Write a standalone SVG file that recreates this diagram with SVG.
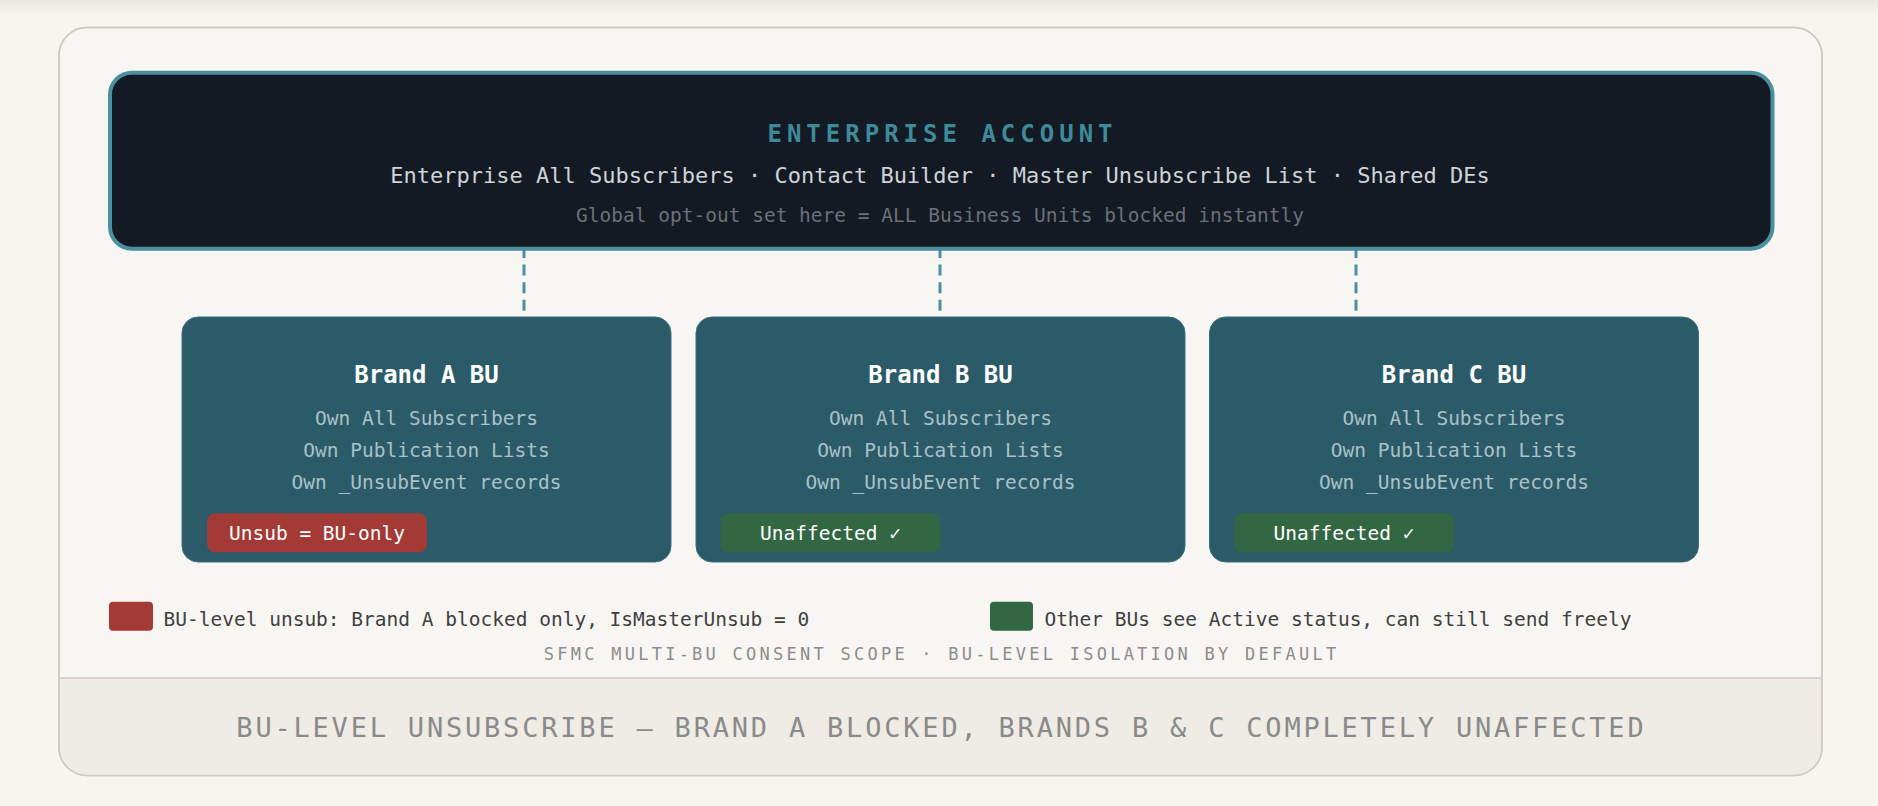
<svg xmlns="http://www.w3.org/2000/svg" width="1878" height="806" viewBox="0 0 1878 806">
<defs>
<linearGradient id="topShade" x1="0" y1="0" x2="0" y2="1">
<stop offset="0" stop-color="#e9e7e3"/>
<stop offset="1" stop-color="#f7f5f0"/>
</linearGradient>
<style>
text{font-family:"DejaVu Sans Mono","Liberation Mono",monospace;}
.bu{fill:#2b5b69;stroke:#3c6f7d;stroke-width:1;}
.bu-title{font-size:24px;font-weight:bold;fill:#ffffff;text-anchor:middle;}
.bu-line{font-size:19.5px;fill:#a9c1c7;text-anchor:middle;}
.badge-txt{font-size:19.5px;fill:#ffffff;text-anchor:middle;}
.red{fill:#a33a36;}
.green{fill:#336643;}
.legend{font-size:19.5px;fill:#3f3f3f;}
.conn{stroke:#4a8fa0;stroke-width:3;stroke-dasharray:11 6.6;fill:none;}
</style>
</defs>
<rect x="0" y="0" width="1878" height="806" fill="#f7f5f0"/>
<rect x="0" y="0" width="1878" height="18" fill="url(#topShade)"/>

<g id="panel">
<rect x="59" y="27.5" width="1763" height="748" rx="28" fill="#f8f6f2" stroke="#cfc9bf" stroke-width="1.5"/>
<path d="M59.75 678 H1821.25 V747.5 A28 28 0 0 1 1793.25 775.5 H87.75 A28 28 0 0 1 59.75 747.5 Z" fill="#efece6"/>
<line x1="59.75" y1="678" x2="1821.25" y2="678" stroke="#cfc9bf" stroke-width="1.5"/>
<rect x="59" y="27.5" width="1763" height="748" rx="28" fill="none" stroke="#cfc9bf" stroke-width="1.5"/>
</g>

<g id="connectors">
<line class="conn" x1="524" y1="247" x2="524" y2="317"/>
<line class="conn" x1="940" y1="247" x2="940" y2="317"/>
<line class="conn" x1="1356" y1="247" x2="1356" y2="317"/>
</g>

<g id="enterprise">
<rect x="110" y="72.7" width="1662.5" height="176" rx="22" fill="#131a23" stroke="#4a8fa0" stroke-width="4"/>
<text x="942.5" y="141.7" font-size="24" font-weight="bold" fill="#3e8a9a" text-anchor="middle" letter-spacing="5">ENTERPRISE ACCOUNT</text>
<text x="940" y="182.7" font-size="22" fill="#cfd3d7" text-anchor="middle">Enterprise All Subscribers · Contact Builder · Master Unsubscribe List · Shared DEs</text>
<text x="940" y="221.7" font-size="19.5" fill="#6b7079" text-anchor="middle">Global opt-out set here = ALL Business Units blocked instantly</text>
</g>

<g id="brand-a">
<rect class="bu" x="182" y="317" width="489" height="245" rx="16"/>
<text class="bu-title" x="426.5" y="383">Brand A BU</text>
<text class="bu-line" x="426.5" y="425">Own All Subscribers</text>
<text class="bu-line" x="426.5" y="457">Own Publication Lists</text>
<text class="bu-line" x="426.5" y="489">Own _UnsubEvent records</text>
<rect class="red" x="207" y="513.3" width="220" height="39" rx="8"/>
<text class="badge-txt" x="317" y="540">Unsub = BU-only</text>
</g>

<g id="brand-b">
<rect class="bu" x="696" y="317" width="489" height="245" rx="16"/>
<text class="bu-title" x="940.5" y="383">Brand B BU</text>
<text class="bu-line" x="940.5" y="425">Own All Subscribers</text>
<text class="bu-line" x="940.5" y="457">Own Publication Lists</text>
<text class="bu-line" x="940.5" y="489">Own _UnsubEvent records</text>
<rect class="green" x="720.5" y="513.3" width="220" height="39" rx="8"/>
<text class="badge-txt" x="830.5" y="540">Unaffected ✓</text>
</g>

<g id="brand-c">
<rect class="bu" x="1209.5" y="317" width="489" height="245" rx="16"/>
<text class="bu-title" x="1454" y="383">Brand C BU</text>
<text class="bu-line" x="1454" y="425">Own All Subscribers</text>
<text class="bu-line" x="1454" y="457">Own Publication Lists</text>
<text class="bu-line" x="1454" y="489">Own _UnsubEvent records</text>
<rect class="green" x="1234" y="513.3" width="220" height="39" rx="8"/>
<text class="badge-txt" x="1344" y="540">Unaffected ✓</text>
</g>

<g id="legend">
<rect class="red" x="109" y="601.7" width="44" height="29" rx="4"/>
<text class="legend" x="163.5" y="625.7">BU-level unsub: Brand A blocked only, IsMasterUnsub = 0</text>
<rect class="green" x="990" y="601.7" width="43" height="29" rx="4"/>
<text class="legend" x="1044.4" y="625.7">Other BUs see Active status, can still send freely</text>
</g>

<g id="captions">
<text x="941.6" y="660" font-size="17" fill="#8c8c8c" text-anchor="middle" letter-spacing="3.25">SFMC MULTI-BU CONSENT SCOPE · BU-LEVEL ISOLATION BY DEFAULT</text>
<text x="941.4" y="737" font-size="27" fill="#8a8a8a" text-anchor="middle" letter-spacing="2.8">BU-LEVEL UNSUBSCRIBE — BRAND A BLOCKED, BRANDS B &amp; C COMPLETELY UNAFFECTED</text>
</g>
</svg>
